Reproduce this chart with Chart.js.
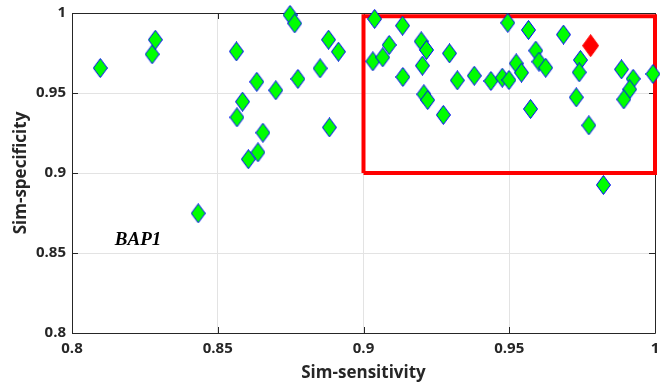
<!DOCTYPE html>
<html>
<head>
<meta charset="utf-8">
<script src="https://cdn.jsdelivr.net/npm/chart.js@4"></script>
<style>
  body { margin: 0; background: #fff; }
  canvas { display: block; }
</style>
</head>
<body>
<canvas id="chart" width="660" height="385"></canvas>
<script>
// green points
const sensitivity = [
  0.8097, 0.8275, 0.8286, 0.8433, 0.8564, 0.8585, 0.8566, 0.8634, 0.8699, 0.8655,
  0.8638, 0.8605, 0.8748, 0.8764, 0.8775, 0.8851, 0.8880, 0.8914, 0.8883, 0.9038,
  0.9134, 0.9032, 0.9066, 0.9088, 0.9135, 0.9198, 0.9216, 0.9202, 0.9207, 0.9220,
  0.9274, 0.9295, 0.9322, 0.9380, 0.9437, 0.9476, 0.9499, 0.9495, 0.9524, 0.9542,
  0.9566, 0.9573, 0.9591, 0.9602, 0.9625, 0.9686, 0.9744, 0.9740, 0.9730, 0.9773,
  0.9885, 0.9925, 0.9913, 0.9893, 0.9993, 0.9823
];
const specificity = [
  0.9656, 0.9742, 0.9833, 0.8748, 0.9760, 0.9446, 0.9348, 0.9570, 0.9517, 0.9252,
  0.9129, 0.9086, 0.9988, 0.9935, 0.9588, 0.9654, 0.9833, 0.9758, 0.9285, 0.9963,
  0.9921, 0.9698, 0.9723, 0.9800, 0.9600, 0.9823, 0.9769, 0.9671, 0.9492, 0.9456,
  0.9363, 0.9748, 0.9579, 0.9608, 0.9575, 0.9596, 0.9581, 0.9939, 0.9685, 0.9627,
  0.9894, 0.9400, 0.9765, 0.9696, 0.9658, 0.9865, 0.9706, 0.9629, 0.9473, 0.9298,
  0.9648, 0.9589, 0.9523, 0.9460, 0.9619, 0.8925
];
// highlighted (red) point
const bestSensitivity = [0.9779];
const bestSpecificity = [0.9796];
// red box corners
const boxX = [0.9, 0.9, 1.0, 1.0, 0.9];
const boxY = [0.9, 0.998, 0.998, 0.9, 0.9];
const tickValues = [0.8, 0.85, 0.9, 0.95, 1];

const zip = (xs, ys) => xs.map((x, i) => ({ x, y: ys[i] }));

function diamond(w, h, fill, stroke) {
  const c = document.createElement('canvas');
  c.width = w; c.height = h;
  const ctx = c.getContext('2d');
  ctx.beginPath();
  ctx.moveTo(w / 2, 0.5);
  ctx.lineTo(w - 0.5, h / 2);
  ctx.lineTo(w / 2, h - 0.5);
  ctx.lineTo(0.5, h / 2);
  ctx.closePath();
  ctx.fillStyle = fill;
  ctx.fill();
  ctx.lineWidth = 1;
  ctx.strokeStyle = stroke;
  ctx.stroke();
  return c;
}

const greenMark = diamond(15, 20, '#00ff00', '#0000ff');
const redMark = diamond(17, 23, '#ff0000', '#ff0000');

// matlab style box with inward ticks, plus the gene label
const frame = {
  id: 'frame',
  beforeDatasetsDraw(chart) {
    const { ctx, chartArea: a, scales: { x, y } } = chart;
    ctx.save();
    ctx.strokeStyle = '#262626';
    ctx.lineWidth = 1;
    ctx.beginPath();
    ctx.rect(a.left + 0.5, a.top + 0.5, a.right - a.left, a.bottom - a.top);
    const t = 6;
    tickValues.forEach(v => {
      const px = Math.round(x.getPixelForValue(v)) + 0.5;
      ctx.moveTo(px, a.bottom); ctx.lineTo(px, a.bottom - t);
      ctx.moveTo(px, a.top); ctx.lineTo(px, a.top + t);
      const py = Math.round(y.getPixelForValue(v)) + 0.5;
      ctx.moveTo(a.left, py); ctx.lineTo(a.left + t, py);
      ctx.moveTo(a.right, py); ctx.lineTo(a.right - t, py);
    });
    ctx.stroke();

    ctx.fillStyle = '#000';
    ctx.font = 'italic bold 19px "Liberation Serif"';
    ctx.textBaseline = 'alphabetic';
    ctx.fillText('BAP1', x.getPixelForValue(0.8147), y.getPixelForValue(0.855));
    ctx.restore();
  }
};

const tickFont = { family: 'Open Sans', size: 15, weight: 'bold' };
const titleFont = { family: 'Open Sans', size: 17, weight: 'bold' };

new Chart(document.getElementById('chart'), {
  type: 'scatter',
  data: {
    datasets: [
      {
        data: zip(bestSensitivity, bestSpecificity),
        pointStyle: redMark,
        order: 1,
        clip: false
      },
      {
        data: zip(sensitivity, specificity),
        pointStyle: greenMark,
        order: 2,
        clip: false
      },
      {
        data: zip(boxX, boxY),
        showLine: true,
        borderColor: '#ff0000',
        borderWidth: 4,
        pointRadius: 0,
        order: 3,
        clip: false
      }
    ]
  },
  options: {
    responsive: false,
    animation: false,
    events: [],
    layout: { padding: { left: 0, right: 3, top: 13, bottom: 0 } },
    plugins: { legend: { display: false }, tooltip: { enabled: false } },
    scales: {
      x: {
        type: 'linear',
        min: 0.8,
        max: 1,
        afterFit(s) { s.height = 52; s.paddingLeft = 0; s.paddingRight = 0; },
        afterBuildTicks(s) { s.ticks = tickValues.map(value => ({ value })); },
        grid: { color: '#e3e3e3', drawTicks: false },
        border: { display: false },
        ticks: {
          padding: 7,
          color: '#262626',
          font: tickFont,
          maxRotation: 0,
          callback: v => String(+v.toFixed(2))
        },
        title: {
          display: true,
          text: 'Sim-sensitivity',
          color: '#262626',
          font: titleFont,
          padding: { top: 0, bottom: 2 }
        }
      },
      y: {
        type: 'linear',
        min: 0.8,
        max: 1,
        afterFit(s) { s.width = 72; s.paddingTop = 0; s.paddingBottom = 0; },
        afterBuildTicks(s) { s.ticks = tickValues.map(value => ({ value })); },
        grid: { color: '#e3e3e3', drawTicks: false },
        border: { display: false },
        ticks: {
          padding: 6,
          color: '#262626',
          font: tickFont,
          callback: v => String(+v.toFixed(2))
        },
        title: {
          display: true,
          text: 'Sim-specificity',
          color: '#262626',
          font: titleFont,
          padding: { top: 11, bottom: 0 }
        }
      }
    }
  },
  plugins: [frame]
});
</script>
</body>
</html>
